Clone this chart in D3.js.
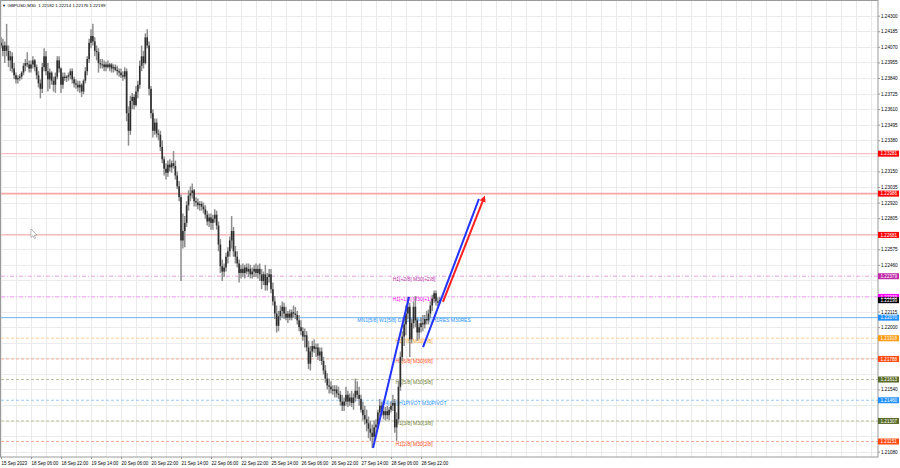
<!DOCTYPE html>
<html><head><meta charset="utf-8">
<script src="https://cdn.jsdelivr.net/npm/d3@7"></script>
<style>
html,body{margin:0;padding:0;background:#fff}
svg{display:block}
text{font-family:"Liberation Sans",Arial,sans-serif}
</style>
</head><body>
<svg id="chart" width="900" height="468"></svg>
<script>
// ---------------- DATA ----------------
const symbolTitle = "GBPUSD,M30  1.22182 1.22214 1.22176 1.22199";

const open = [
1.2410,1.2408,1.2404,1.2408,1.2404,1.2397,1.2400,1.2391,1.2386,1.2383,
1.2384,1.2385,1.2388,1.2393,1.2395,1.2394,1.2391,1.2394,1.2397,1.2392,
1.2386,1.2380,1.2376,1.2392,1.2400,1.2389,1.2383,1.2388,1.2382,1.2379,
1.2385,1.2397,1.2391,1.2379,1.2385,1.2384,1.2385,1.2386,1.2389,1.2383,
1.2380,1.2379,1.2377,1.2379,1.2374,1.2382,1.2389,1.2398,1.2410,1.2415,
1.2411,1.2404,1.2403,1.2395,1.2394,1.2394,1.2392,1.2394,1.2392,1.2394,
1.2391,1.2392,1.2390,1.2389,1.2388,1.2386,1.2385,1.2389,1.2358,1.2345,
1.2367,1.2370,1.2364,1.2374,1.2379,1.2393,1.2400,1.2395,1.2414,1.2408,
1.2376,1.2358,1.2345,1.2351,1.2343,1.2342,1.2333,1.2324,1.2317,1.2314,
1.2320,1.2318,1.2321,1.2319,1.2312,1.2304,1.2296,1.2264,1.2271,1.2277,
1.2290,1.2297,1.2299,1.2301,1.2293,1.2292,1.2290,1.2291,1.2289,1.2287,
1.2283,1.2278,1.2281,1.2277,1.2280,1.2283,1.2275,1.2261,1.2245,1.2241,
1.2244,1.2252,1.2256,1.2264,1.2271,1.2256,1.2252,1.2247,1.2240,1.2243,
1.2240,1.2244,1.2241,1.2243,1.2239,1.2241,1.2243,1.2240,1.2243,1.2239,
1.2234,1.2239,1.2231,1.2237,1.2239,1.2228,1.2219,1.2210,1.2201,1.2208,
1.2212,1.2215,1.2210,1.2207,1.2210,1.2207,1.2211,1.2210,1.2209,1.2205,
1.2200,1.2197,1.2193,1.2194,1.2185,1.2173,1.2182,1.2186,1.2184,1.2185,
1.2179,1.2182,1.2175,1.2168,1.2162,1.2157,1.2156,1.2154,1.2153,1.2154,
1.2151,1.2150,1.2145,1.2142,1.2145,1.2150,1.2145,1.2148,1.2144,1.2148,
1.2153,1.2150,1.2147,1.2139,1.2135,1.2132,1.2129,1.2125,1.2122,1.2119,
1.2126,1.2128,1.2137,1.2142,1.2138,1.2135,1.2138,1.2135,1.2139,1.2142,
1.2144,1.2126,1.2132,1.2156,1.2178,1.2193,1.2202,1.2210,1.2215,1.2191,
1.2203,1.2215,1.2205,1.2196,1.2200,1.2203,1.2202,1.2206,1.2205,1.2210,
1.2216,1.2221,1.2225,1.2219,1.2218];

const high = [
1.2414,1.2413,1.2411,1.2424,1.2408,1.2404,1.2403,1.2395,1.2388,1.2386,
1.2387,1.2389,1.2395,1.2398,1.2403,1.2397,1.2397,1.2400,1.2398,1.2394,
1.2389,1.2383,1.2395,1.2406,1.2404,1.2395,1.2391,1.2389,1.2385,1.2388,
1.2400,1.2400,1.2392,1.2388,1.2388,1.2386,1.2388,1.2391,1.2391,1.2385,
1.2383,1.2382,1.2382,1.2380,1.2383,1.2392,1.2400,1.2413,1.2420,1.2424,
1.2414,1.2408,1.2406,1.2398,1.2398,1.2397,1.2396,1.2397,1.2395,1.2395,
1.2394,1.2394,1.2393,1.2391,1.2391,1.2389,1.2392,1.2391,1.2363,1.2371,
1.2373,1.2372,1.2378,1.2382,1.2397,1.2408,1.2404,1.2417,1.2420,1.2411,
1.2378,1.2361,1.2354,1.2354,1.2346,1.2345,1.2338,1.2326,1.2321,1.2323,
1.2324,1.2323,1.2330,1.2323,1.2315,1.2308,1.2298,1.2284,1.2282,1.2293,
1.2301,1.2304,1.2306,1.2302,1.2296,1.2295,1.2293,1.2293,1.2292,1.2290,
1.2286,1.2284,1.2284,1.2283,1.2287,1.2286,1.2278,1.2265,1.2250,1.2247,
1.2255,1.2259,1.2267,1.2282,1.2274,1.2260,1.2256,1.2250,1.2246,1.2247,
1.2246,1.2247,1.2247,1.2246,1.2244,1.2246,1.2247,1.2246,1.2247,1.2243,
1.2241,1.2246,1.2240,1.2243,1.2243,1.2233,1.2223,1.2216,1.2212,1.2216,
1.2219,1.2218,1.2215,1.2212,1.2213,1.2213,1.2216,1.2215,1.2212,1.2209,
1.2205,1.2200,1.2199,1.2197,1.2190,1.2186,1.2190,1.2191,1.2188,1.2188,
1.2185,1.2185,1.2178,1.2172,1.2166,1.2162,1.2160,1.2157,1.2157,1.2157,
1.2156,1.2153,1.2150,1.2148,1.2156,1.2153,1.2151,1.2153,1.2151,1.2162,
1.2160,1.2156,1.2150,1.2145,1.2142,1.2139,1.2134,1.2131,1.2128,1.2131,
1.2132,1.2139,1.2147,1.2145,1.2142,1.2141,1.2142,1.2141,1.2145,1.2150,
1.2147,1.2137,1.2160,1.2182,1.2197,1.2206,1.2216,1.2222,1.2218,1.2206,
1.2219,1.2223,1.2207,1.2203,1.2207,1.2209,1.2209,1.2212,1.2213,1.2219,
1.2224,1.2227,1.2227,1.2222,1.2222];

const low = [
1.2406,1.2400,1.2395,1.2400,1.2392,1.2389,1.2388,1.2383,1.2380,1.2380,
1.2382,1.2383,1.2386,1.2389,1.2392,1.2388,1.2388,1.2391,1.2389,1.2383,
1.2377,1.2369,1.2373,1.2389,1.2386,1.2374,1.2376,1.2379,1.2374,1.2373,
1.2383,1.2388,1.2373,1.2376,1.2382,1.2381,1.2382,1.2383,1.2380,1.2377,
1.2376,1.2374,1.2373,1.2370,1.2372,1.2380,1.2386,1.2395,1.2406,1.2408,
1.2400,1.2397,1.2388,1.2391,1.2391,1.2389,1.2389,1.2391,1.2389,1.2388,
1.2388,1.2389,1.2386,1.2385,1.2384,1.2382,1.2383,1.2352,1.2334,1.2342,
1.2361,1.2361,1.2363,1.2369,1.2376,1.2389,1.2391,1.2394,1.2406,1.2371,
1.2354,1.2340,1.2342,1.2340,1.2338,1.2330,1.2321,1.2312,1.2309,1.2311,
1.2315,1.2314,1.2317,1.2309,1.2302,1.2293,1.2234,1.2258,1.2259,1.2274,
1.2286,1.2293,1.2295,1.2289,1.2289,1.2287,1.2286,1.2286,1.2284,1.2280,
1.2275,1.2274,1.2272,1.2272,1.2277,1.2272,1.2256,1.2240,1.2234,1.2237,
1.2241,1.2247,1.2252,1.2258,1.2252,1.2247,1.2244,1.2233,1.2236,1.2237,
1.2236,1.2239,1.2237,1.2236,1.2236,1.2237,1.2237,1.2236,1.2234,1.2228,
1.2231,1.2227,1.2227,1.2233,1.2225,1.2216,1.2206,1.2196,1.2197,1.2205,
1.2207,1.2206,1.2205,1.2203,1.2205,1.2205,1.2207,1.2206,1.2202,1.2197,
1.2194,1.2190,1.2185,1.2182,1.2169,1.2168,1.2178,1.2181,1.2178,1.2176,
1.2175,1.2172,1.2165,1.2159,1.2154,1.2151,1.2151,1.2150,1.2148,1.2148,
1.2147,1.2142,1.2138,1.2138,1.2142,1.2141,1.2142,1.2141,1.2139,1.2145,
1.2147,1.2142,1.2137,1.2131,1.2128,1.2123,1.2118,1.2116,1.2111,1.2116,
1.2120,1.2125,1.2134,1.2135,1.2132,1.2131,1.2132,1.2131,1.2137,1.2138,
1.2122,1.2116,1.2129,1.2153,1.2175,1.2186,1.2194,1.2206,1.2178,1.2188,
1.2199,1.2200,1.2190,1.2191,1.2196,1.2197,1.2199,1.2202,1.2202,1.2207,
1.2212,1.2218,1.2216,1.2215,1.2217];

const close = [
1.2408,1.2404,1.2408,1.2404,1.2397,1.2400,1.2391,1.2386,1.2383,1.2384,
1.2385,1.2388,1.2393,1.2395,1.2394,1.2391,1.2394,1.2397,1.2392,1.2386,
1.2380,1.2376,1.2392,1.2400,1.2389,1.2383,1.2388,1.2382,1.2379,1.2385,
1.2397,1.2391,1.2379,1.2385,1.2384,1.2385,1.2386,1.2389,1.2383,1.2380,
1.2379,1.2377,1.2379,1.2374,1.2382,1.2389,1.2398,1.2410,1.2415,1.2411,
1.2404,1.2403,1.2395,1.2394,1.2394,1.2392,1.2394,1.2392,1.2394,1.2391,
1.2392,1.2390,1.2389,1.2388,1.2386,1.2385,1.2389,1.2358,1.2345,1.2367,
1.2370,1.2364,1.2374,1.2379,1.2393,1.2400,1.2395,1.2414,1.2408,1.2376,
1.2358,1.2345,1.2351,1.2343,1.2342,1.2333,1.2324,1.2317,1.2314,1.2320,
1.2318,1.2321,1.2319,1.2312,1.2304,1.2296,1.2264,1.2271,1.2277,1.2290,
1.2297,1.2299,1.2301,1.2293,1.2292,1.2290,1.2291,1.2289,1.2287,1.2283,
1.2278,1.2281,1.2277,1.2280,1.2283,1.2275,1.2261,1.2245,1.2241,1.2244,
1.2252,1.2256,1.2264,1.2271,1.2256,1.2252,1.2247,1.2240,1.2243,1.2240,
1.2244,1.2241,1.2243,1.2239,1.2241,1.2243,1.2240,1.2243,1.2239,1.2234,
1.2239,1.2231,1.2237,1.2239,1.2228,1.2219,1.2210,1.2201,1.2208,1.2212,
1.2215,1.2210,1.2207,1.2210,1.2207,1.2211,1.2210,1.2209,1.2205,1.2200,
1.2197,1.2193,1.2194,1.2185,1.2173,1.2182,1.2186,1.2184,1.2185,1.2179,
1.2182,1.2175,1.2168,1.2162,1.2157,1.2156,1.2154,1.2153,1.2154,1.2151,
1.2150,1.2145,1.2142,1.2145,1.2150,1.2145,1.2148,1.2144,1.2148,1.2153,
1.2150,1.2147,1.2139,1.2135,1.2132,1.2129,1.2125,1.2122,1.2119,1.2126,
1.2128,1.2137,1.2142,1.2138,1.2135,1.2138,1.2135,1.2139,1.2142,1.2144,
1.2126,1.2132,1.2156,1.2178,1.2193,1.2202,1.2210,1.2215,1.2191,1.2203,
1.2215,1.2205,1.2196,1.2200,1.2203,1.2202,1.2206,1.2205,1.2210,1.2216,
1.2221,1.2225,1.2219,1.2218,1.2220];

const timeLabels = ["15 Sep 2023","18 Sep 06:00","18 Sep 22:00","19 Sep 14:00","20 Sep 06:00",
  "20 Sep 22:00","21 Sep 14:00","22 Sep 06:00","22 Sep 22:00","25 Sep 14:00","26 Sep 06:00",
  "26 Sep 22:00","27 Sep 14:00","28 Sep 06:00","28 Sep 22:00"];
const timeLabelBars = [0,16,32,48,64,80,96,112,128,144,160,176,192,208,224];

const priceTicks = [1.21080,1.21195,1.21310,1.21425,1.21540,1.21655,1.21770,1.21885,1.22000,
  1.22115,1.22230,1.22345,1.22460,1.22575,1.22690,1.22805,1.22920,1.23035,1.23150,1.23265,
  1.23380,1.23495,1.23610,1.23725,1.23840,1.23955,1.24070,1.24185,1.24300];

const levelPrices = [1.23281,1.22986,1.22681,1.22376,1.22223,1.22070,1.21918,1.21765,1.21613,1.21460,1.21307,1.21155];
const levelTexts = ["","","","H1[+2/8] M30[+2/8]","H1[+1/8] M30[+1/8]",
  "MN1[5/8] W1[5/8] D1[5/8] H4[5/8] H1RES M30RES","H1[7/8] M30[7/8]","H1[6/8] M30[6/8]",
  "H1[5/8] M30[5/8]","H4[4/8] H1PIVOT M30PIVOT","H1[3/8] M30[3/8]","H1[2/8] M30[2/8]"];
const levelTags = ["1.23281","1.22986","1.22681","1.22379","1.22233","1.22070","1.21918","1.21788","1.21613","1.21460","1.21307","1.21151"];
const levelLabelBar = 220.3;
const currentPrice = 1.22199;

const trendFromBar = [198.4, 225.1, 235.7];
const trendFromPrice = [1.21107, 1.21853, 1.22186];
const trendToBar = [217.6, 254.9, 257.6];
const trendToPrice = [1.22223, 1.22947, 1.22954];

// ---------------- STYLES ----------------
const levelStyle = [
  {line:"#f7b4b4", w:1,   dash:null,      text:"#ff0000", tag:"#ff0000"},
  {line:"#f5a6a6", w:1.8, dash:null,      text:"#ff0000", tag:"#ff0000"},
  {line:"#f7b0b0", w:1.2, dash:null,      text:"#ff0000", tag:"#ff0000"},
  {line:"#e6a0e2", w:1,   dash:"4,2,1,2", text:"#c02aa8", tag:"#c02aa8"},
  {line:"#f59cf5", w:1,   dash:"4,2,1,2", text:"#ff00ff", tag:"#ff00ff"},
  {line:"#6cb4f5", w:1,   dash:null,      text:"#1e90ff", tag:"#1e90ff"},
  {line:"#fcd09a", w:1,   dash:"3,2",     text:"#ff9a10", tag:"#ff9a10"},
  {line:"#fbac96", w:1,   dash:"3,2",     text:"#ff4a10", tag:"#ff4a10"},
  {line:"#bcc29c", w:1,   dash:"3,2",     text:"#6b7a2a", tag:"#5a6b2a"},
  {line:"#9ccbf6", w:1,   dash:"3,2",     text:"#1e90ff", tag:"#1e90ff"},
  {line:"#bcc29c", w:1,   dash:"3,2",     text:"#6b7a2a", tag:"#5a6b2a"},
  {line:"#fbac96", w:1,   dash:"3,2",     text:"#ff4a10", tag:"#ff4a10"}
];
const trendColor = ["#2233ff","#2233ff","#ff2020"];

// ---------------- DRAW ----------------
const svg = d3.select("#chart");
const PL = 1, PR = 878, PT = 1, PB = 457;
const x = d3.scaleLinear().domain([0, 464]).range([1, 871]);
const y = d3.scaleLinear().domain([1.2108, 1.2430]).range([451.7, 15.7]);

svg.append("rect").attr("width",900).attr("height",468).attr("fill","#fff");
const defs = svg.append("defs");
defs.append("clipPath").attr("id","plot")
  .append("rect").attr("x",PL).attr("y",PT).attr("width",PR-PL).attr("height",PB-PT);
defs.append("marker").attr("id","arrRed").attr("viewBox","0 0 10 10")
  .attr("refX",6).attr("refY",5).attr("markerWidth",3.2).attr("markerHeight",3.2)
  .attr("orient","auto").append("path").attr("d","M0,0 L10,5 L0,10 Z").attr("fill","#ff2020");

// grid
const grid = svg.append("g").attr("clip-path","url(#plot)");
grid.selectAll("line.h").data(priceTicks).join("line")
  .attr("x1",PL).attr("x2",PR).attr("y1",d=>Math.round(y(d))+0.5).attr("y2",d=>Math.round(y(d))+0.5)
  .attr("stroke","#ebebeb").attr("stroke-width",1);
grid.selectAll("line.v").data(d3.range(0, 465, 8)).join("line")
  .attr("y1",PT).attr("y2",PB).attr("x1",d=>Math.round(x(d))+0.5).attr("x2",d=>Math.round(x(d))+0.5)
  .attr("stroke","#ebebeb").attr("stroke-width",1);

// levels
const lv = svg.append("g").attr("clip-path","url(#plot)");
lv.selectAll("line").data(levelPrices).join("line")
  .attr("x1",PL).attr("x2",PR).attr("y1",d=>y(d)).attr("y2",d=>y(d))
  .attr("stroke",(d,i)=>levelStyle[i].line).attr("stroke-width",(d,i)=>levelStyle[i].w)
  .attr("stroke-dasharray",(d,i)=>levelStyle[i].dash);
lv.selectAll("text").data(levelPrices).join("text")
  .attr("x",x(levelLabelBar)).attr("y",d=>y(d)+4.5).attr("text-anchor","middle")
  .attr("font-size",5).attr("fill",(d,i)=>levelStyle[i].text).text((d,i)=>levelTexts[i]);

// candles
const cg = svg.append("g").attr("clip-path","url(#plot)");
const idx = d3.range(close.length);
cg.selectAll("line").data(idx).join("line")
  .attr("x1",i=>x(i)).attr("x2",i=>x(i)).attr("y1",i=>y(high[i])).attr("y2",i=>y(low[i]))
  .attr("stroke","#8e8e8e").attr("stroke-width",1.5);
cg.selectAll("rect").data(idx).join("rect")
  .attr("x",i=>x(i)-0.8).attr("width",1.6)
  .attr("y",i=>Math.min(y(open[i]),y(close[i])))
  .attr("height",i=>Math.max(0.9,Math.abs(y(open[i])-y(close[i]))))
  .attr("fill","#2e2e2e");

// trend lines
const tg = svg.append("g");
tg.selectAll("line").data(trendFromBar).join("line")
  .attr("x1",(d,i)=>x(d)).attr("y1",(d,i)=>y(trendFromPrice[i]))
  .attr("x2",(d,i)=>x(trendToBar[i])).attr("y2",(d,i)=>y(trendToPrice[i]))
  .attr("stroke",(d,i)=>trendColor[i]).attr("stroke-width",2)
  .attr("marker-end",(d,i)=>i===2?"url(#arrRed)":null);

// mouse cursor (screenshot artefact)
svg.append("path").attr("transform","translate(31,229)")
  .attr("d","M0,0 L0,8.5 L2,6.6 L3.4,9.6 L4.6,9.1 L3.2,6.1 L6,6.1 Z")
  .attr("fill","#fff").attr("stroke","#8a8a8a").attr("stroke-width",0.6);

// frame
svg.append("rect").attr("x",0.5).attr("y",0.5).attr("width",PR-0.5).attr("height",PB-0.5)
  .attr("fill","none").attr("stroke","#9a9a9a").attr("stroke-width",1);

// tags data (drawn after axis)
const tagData = levelPrices.map((p,i)=>({p, t:levelTags[i], c:levelStyle[i].tag}))
  .concat([{p:currentPrice,t:"1.22199",c:"#000"}]);
const tagYs = tagData.map(d=>y(d.p));
const visibleTicks = priceTicks.filter(t=>tagYs.every(ty=>Math.abs(ty-y(t))>6));

// right axis
const ya = svg.append("g").attr("transform",`translate(${PR},0)`)
  .call(d3.axisRight(y).tickValues(visibleTicks).tickFormat(d3.format(".5f")).tickSize(2).tickPadding(1));
ya.select(".domain").remove();
ya.selectAll("line").attr("stroke","#9a9a9a");
ya.selectAll("text").attr("font-size",4.6).attr("fill","#000").attr("font-family","Liberation Sans, Arial, sans-serif");

// tags
const tags = svg.append("g");
tags.selectAll("rect").data(tagData).join("rect")
  .attr("x",PR).attr("width",21).attr("y",d=>y(d.p)-3).attr("height",6).attr("fill",d=>d.c);
tags.selectAll("text").data(tagData).join("text")
  .attr("x",PR+2.5).attr("y",d=>y(d.p)+1.7).attr("font-size",4.6).attr("fill","#fff").text(d=>d.t);

// bottom axis
const xa = svg.append("g").attr("transform",`translate(0,${PB})`)
  .call(d3.axisBottom(x).tickValues(timeLabelBars).tickFormat((d,i)=>timeLabels[i]).tickSize(2).tickPadding(3));
xa.select(".domain").remove();
xa.selectAll("line").attr("stroke","#9a9a9a");
xa.selectAll("text").attr("font-size",4.5).attr("fill","#000").attr("text-anchor","start")
  .attr("font-family","Liberation Sans, Arial, sans-serif");

// title
svg.append("text").attr("x",2).attr("y",6.8).attr("font-size",4).attr("fill","#000").text("\u25BC");
svg.append("text").attr("x",7.5).attr("y",7).attr("font-size",4.4).attr("fill","#000")
  .style("white-space","pre").text(symbolTitle);
</script>
</body></html>
